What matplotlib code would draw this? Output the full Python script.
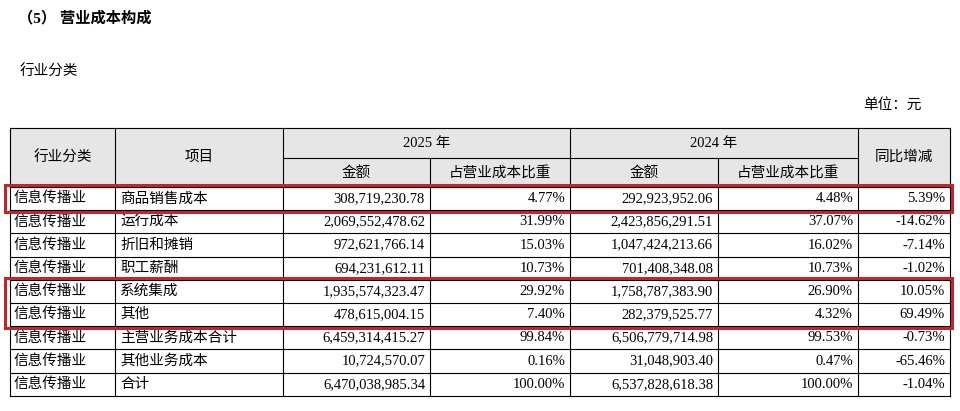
import matplotlib.pyplot as plt
from matplotlib.patches import Rectangle

industry = ["信息传播业"] * 9
items = ["商品销售成本", "运行成本", "折旧和摊销", "职工薪酬", "系统集成", "其他",
         "主营业务成本合计", "其他业务成本", "合计"]
amt2025 = ["308,719,230.78", "2,069,552,478.62", "972,621,766.14", "694,231,612.11",
           "1,935,574,323.47", "478,615,004.15", "6,459,314,415.27", "10,724,570.07",
           "6,470,038,985.34"]
pct2025 = ["4.77%", "31.99%", "15.03%", "10.73%", "29.92%", "7.40%", "99.84%", "0.16%", "100.00%"]
amt2024 = ["292,923,952.06", "2,423,856,291.51", "1,047,424,213.66", "701,408,348.08",
           "1,758,787,383.90", "282,379,525.77", "6,506,779,714.98", "31,048,903.40",
           "6,537,828,618.38"]
pct2024 = ["4.48%", "37.07%", "16.02%", "10.73%", "26.90%", "4.32%", "99.53%", "0.47%", "100.00%"]
yoy = ["5.39%", "-14.62%", "-7.14%", "-1.02%", "10.05%", "69.49%", "-0.73%", "-65.46%", "-1.04%"]
highlight_groups = [[0], [4, 5]]

F = ['Liberation Serif', 'Noto Sans CJK SC']
fig = plt.figure(figsize=(9.6, 4.11), dpi=100)
ax = fig.add_axes([0, 0, 1, 1])
ax.set_xlim(0, 960); ax.set_ylim(411, 0); ax.axis('off')

ax.text(18, 18, "（5） 营业成本构成", fontsize=11, fontweight='bold', family=F, va='center')
ax.text(20, 72, "行业分类", fontsize=10.5, family=F, va='center')
ax.text(922, 105, "单位：元", fontsize=10.5, family=F, va='center', ha='right')

xs = [10, 115, 283, 430, 570, 718, 858, 950]
y0, h1, h2 = 128, 30, 29
rh = 23.2
ytop = y0 + h1 + h2
ybot = ytop + rh * len(items)
ax.add_patch(Rectangle((xs[0], y0), xs[-1] - xs[0], h1 + h2, color='#e6e6e6', zorder=0))
lw = 0.8
# outer & lines
for x in [xs[0], xs[1], xs[2], xs[4], xs[6], xs[7]]:
    ax.plot([x, x], [y0, ybot], color='black', lw=lw)
for x in [xs[3], xs[5]]:
    ax.plot([x, x], [y0 + h1, ybot], color='black', lw=lw)
ax.plot([xs[0], xs[-1]], [y0, y0], color='black', lw=lw)
ax.plot([xs[2], xs[6]], [y0 + h1, y0 + h1], color='black', lw=lw)
for i in range(len(items) + 1):
    y = ytop + i * rh
    ax.plot([xs[0], xs[-1]], [y, y], color='black', lw=lw)

fs = 10.5
def c(x0, x1): return (x0 + x1) / 2
ax.text(c(xs[0], xs[1]), y0 + (h1 + h2) / 2, "行业分类", ha='center', va='center', fontsize=fs, family=F)
ax.text(c(xs[1], xs[2]), y0 + (h1 + h2) / 2, "项目", ha='center', va='center', fontsize=fs, family=F)
ax.text(c(xs[6], xs[7]), y0 + (h1 + h2) / 2, "同比增减", ha='center', va='center', fontsize=fs, family=F)
ax.text(c(xs[2], xs[4]), y0 + h1 / 2, "2025 年", ha='center', va='center', fontsize=fs, family=F)
ax.text(c(xs[4], xs[6]), y0 + h1 / 2, "2024 年", ha='center', va='center', fontsize=fs, family=F)
for a, b, t in [(2, 3, "金额"), (3, 4, "占营业成本比重"), (4, 5, "金额"), (5, 6, "占营业成本比重")]:
    ax.text(c(xs[a], xs[b]), y0 + h1 + h2 / 2, t, ha='center', va='center', fontsize=fs, family=F)

for i in range(len(items)):
    yc = ytop + i * rh + rh / 2
    ax.text(xs[0] + 4, yc, industry[i], va='center', fontsize=fs, family=F)
    ax.text(xs[1] + 5, yc, items[i], va='center', fontsize=fs, family=F)
    for k, col in enumerate([amt2025, pct2025, amt2024, pct2024, yoy]):
        ax.text(xs[k + 3] - 5, yc, col[i], va='center', ha='right', fontsize=fs, family=F)

for g in highlight_groups:
    ya = ytop + g[0] * rh - 2
    yb = ytop + (g[-1] + 1) * rh + 2
    ax.add_patch(Rectangle((5, ya), 947, yb - ya, fill=False, ec='#c0272d', lw=2.2, zorder=5))

fig.savefig("out.png", dpi=100)
